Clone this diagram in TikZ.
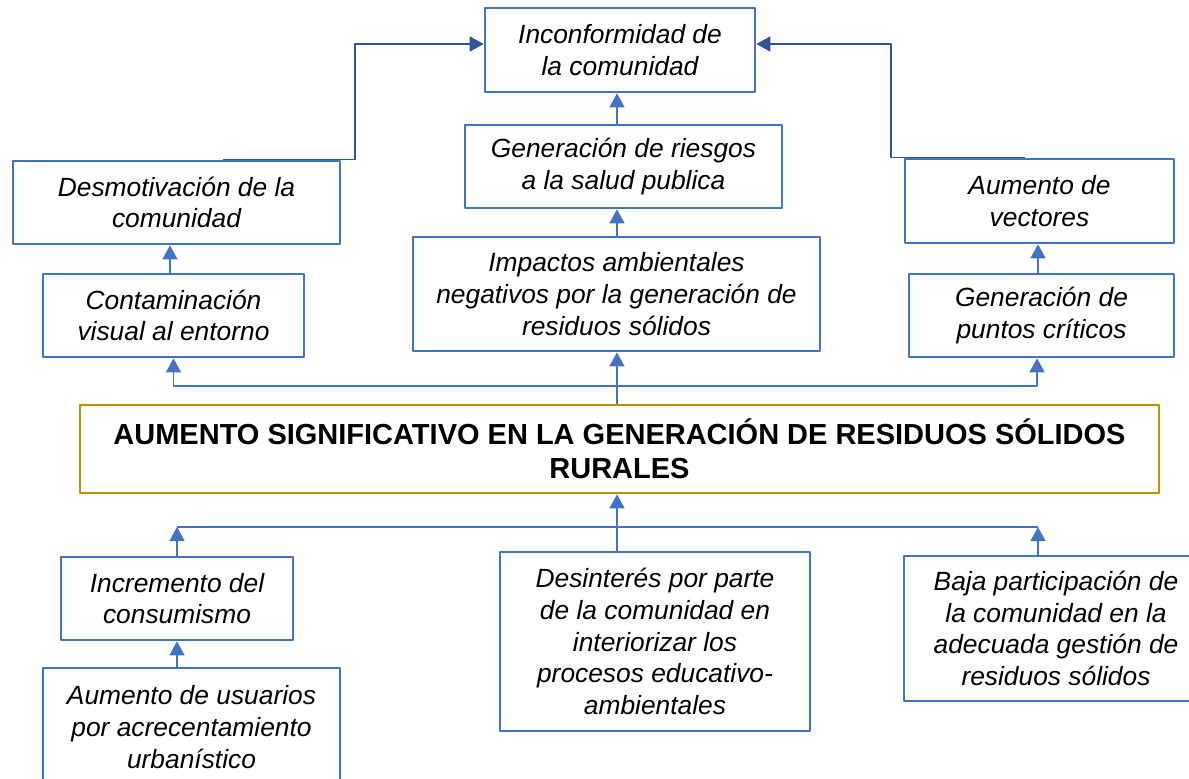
\documentclass[tikz,border=0pt]{standalone}
\usepackage{fontspec}
\setmainfont{Liberation Sans}
\usetikzlibrary{arrows.meta}
\definecolor{azulcaja}{HTML}{4472C4}
\definecolor{azulosc}{HTML}{2F5597}
\definecolor{dorado}{HTML}{BF9000}

\begin{document}
\begin{tikzpicture}[x=0.02cm, y=-0.02cm, line join=round,
	caja/.style={draw=azulcaja, line width=1.5pt, align=center, inner sep=0pt, font=\fontsize{15}{18}\selectfont\itshape},
	flecha/.style={draw=azulcaja, line width=0.8pt, -{Triangle[length=0.28cm, width=0.3cm]}},
	flechaosc/.style={draw=azulosc, line width=0.8pt, -{Triangle[length=0.28cm, width=0.3cm]}}]

	\useasboundingbox (0,0) rectangle (1189,778);
	\clip (0,0) rectangle (1189,778);

	% --- EFECTOS ---
	\node[caja, minimum width=5.4cm, minimum height=1.68cm] (incon) at (620,50) {Inconformidad de\\la comunidad};
	\node[caja, minimum width=6.34cm, minimum height=1.66cm] (riesgos) at (623.5,166.5) {Generación de riesgos\\a la salud publica};
	\node[caja, minimum width=8.14cm, minimum height=2.28cm] (impactos) at (616.5,294) {Impactos ambientales\\negativos por la generación de\\residuos sólidos};
	\node[caja, minimum width=6.54cm, minimum height=1.66cm] (desmot) at (176.5,202.5) {Desmotivación de la\\comunidad};
	\node[caja, minimum width=5.22cm, minimum height=1.66cm] (contam) at (173.5,315.5) {Contaminación\\visual al entorno};
	\node[caja, minimum width=5.38cm, minimum height=1.68cm] (vectores) at (1039.5,201) {Aumento de\\vectores};
	\node[caja, minimum width=5.3cm, minimum height=1.66cm] (puntos) at (1041.5,315.5) {Generación de\\puntos críticos};

	% --- PROBLEMA CENTRAL ---
	\node[draw=dorado, line width=1.5pt, align=center, inner sep=0pt, minimum width=21.58cm, minimum height=1.76cm,
		font=\fontsize{16.5}{19.5}\selectfont\bfseries] (central) at (619.5,449)
		{AUMENTO SIGNIFICATIVO EN LA GENERACIÓN DE RESIDUOS SÓLIDOS\\RURALES};

	% --- CAUSAS ---
	\node[caja, minimum width=4.64cm, minimum height=1.66cm] (incremento) at (177,598.5) {Incremento del\\consumismo};
	\node[caja, minimum width=5.94cm, minimum height=2.36cm] (usuarios) at (191.5,727) {Aumento de usuarios\\por acrecentamiento\\urbanístico};
	\node[caja, minimum width=6.2cm, minimum height=3.58cm] (desinteres) at (655,641.5) {Desinterés por parte\\de la comunidad en\\interiorizar los\\procesos educativo-\\ambientales};
	\node[caja, minimum width=6.08cm, minimum height=2.9cm] (baja) at (1056,628.5) {Baja participación de\\la comunidad en la\\adecuada gestión de\\residuos sólidos};

	\coordinate (eje) at (617,0);
	\coordinate (busA) at (0,386);
	\coordinate (busB) at (0,527);

	% columna central
	\foreach \a/\b in {central/impactos, impactos/riesgos, riesgos/incon} {
		\draw[flecha] (eje |- \a.north) -- (eje |- \b.south);
	}
	\draw[flecha] (eje |- desinteres.north) -- (eje |- central.south);

	% cadenas laterales
	\draw[flecha] ([xshift=-0.07cm]contam.north) -- ([xshift=-0.07cm]contam.north |- desmot.south);
	\draw[flecha] ([xshift=-0.07cm]puntos.north) -- ([xshift=-0.07cm]puntos.north |- vectores.south);
	\draw[flecha] (incremento.south |- usuarios.north) -- (incremento.south);

	% barra superior
	\draw[flecha] (eje |- busA) -| (contam.south);
	\draw[flecha] (eje |- busA) -| ([xshift=-0.09cm]puntos.south);

	% barra inferior
	\coordinate (bajaE) at ([xshift=-0.36cm]baja.north);
	\draw[draw=azulcaja, line width=0.8pt] (incremento.north |- busB) -- (bajaE |- busB);
	\draw[flecha] (incremento.north) -- (incremento.north |- busB);
	\draw[flecha] (bajaE) -- (bajaE |- busB);

	% --- FLECHAS HACIA LA INCONFORMIDAD ---
	\draw[flechaosc] ([xshift=0.93cm]desmot.north) -- ++(132,0) |- ([yshift=0.12cm]incon.west);
	\draw[flechaosc] ([xshift=-0.29cm]vectores.north) -- ++(-134,0) |- ([yshift=0.12cm]incon.east);

\end{tikzpicture}
\end{document}
